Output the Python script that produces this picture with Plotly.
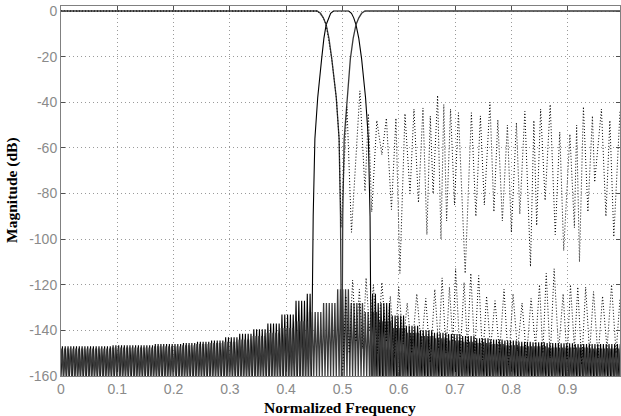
import numpy as np
import plotly.graph_objects as go

# ------------------------------------------------------------------
# Data
# ------------------------------------------------------------------
floor_db = -160.0          # plot floor (nulls are clipped here)
ripple_step = 0.005        # spacing of stopband ripples (normalized freq)

x_ticks = [0, 0.1, 0.2, 0.3, 0.4, 0.5, 0.6, 0.7, 0.8, 0.9]
x_tick_text = ["0", "0.1", "0.2", "0.3", "0.4", "0.5", "0.6", "0.7", "0.8", "0.9"]
y_ticks = [0, -20, -40, -60, -80, -100, -120, -140, -160]
y_tick_text = ["0", "-20", "-40", "-60", "-80", "-100", "-120", "-140", "-160"]

# Lowpass: passband + transition
lp_f = [0.0, 0.455, 0.461, 0.466, 0.471, 0.476, 0.481, 0.489, 0.494, 0.4965, 0.4975, 0.498]
lp_db = [0, 0, -1, -3, -6, -12, -21, -38, -56, -90, -125, -160]

# Bandpass: left skirt, passband, right skirt
bp_f = [0.445, 0.4455, 0.446, 0.448, 0.451, 0.456, 0.463, 0.467, 0.471, 0.475, 0.479, 0.484,
        0.511, 0.516, 0.520, 0.524, 0.529, 0.534, 0.541, 0.546, 0.549, 0.550, 0.5505, 0.551]
bp_db = [-160, -140, -125, -90, -56, -38, -21, -12, -6, -3, -1, 0,
         0, -1, -3, -6, -12, -21, -38, -56, -90, -125, -140, -160]

# Highpass: transition + passband
hp_f = [0.499, 0.4995, 0.5005, 0.503, 0.508, 0.514, 0.519, 0.524, 0.529, 0.534, 0.540, 0.993]
hp_db = [-160, -125, -90, -56, -38, -21, -12, -6, -3, -1, 0, 0]

# Stopband ripple envelopes (peak level), one value per 0.025 of frequency
env_f = [round(0.025 * i, 3) for i in range(41)]
bp_env = [-147, -147, -147, -147, -146.5, -146.5, -146.5, -146, -146, -145.5,
          -145, -144.5, -143, -141.5, -139.5, -137, -133, -127, -124, -124,
          -124, -124, -124, -128, -133.5, -138, -140, -141, -141.6, -142.5,
          -143.5, -144, -144.5, -145, -145.2, -145.5, -145.6, -146, -146, -146, -146]
hp_env = [-148, -148, -148, -148, -147.5, -147.5, -147.5, -147, -147, -146.5,
          -146, -145.5, -145, -144, -142.5, -141, -139, -136, -132, -128,
          -122, -122, -122, -122, -122, -122, -122, -122, -122, -122,
          -122, -122, -122, -122, -122, -122, -122, -122, -122, -122, -122]
lp_env = [-122, -122, -122, -122, -122, -122, -122, -122, -122, -122,
          -122, -122, -122, -122, -122, -122, -122, -122, -122, -122,
          -122, -128, -132, -136, -139, -141, -142.5, -143.5, -144.5, -145,
          -145.5, -146, -146.5, -147, -147, -147.5, -147.5, -147.5, -148, -148, -148]

# Dotted curve A (stopband around -40 .. -115 dB)
da_f = [0.0, 0.455, 0.466, 0.471, 0.481, 0.489, 0.494, 0.4975,
        0.508, 0.516, 0.531, 0.540, 0.546, 0.552, 0.561, 0.570, 0.578, 0.587, 0.595, 0.602,
        0.611, 0.620, 0.627, 0.635, 0.643, 0.650, 0.656, 0.661, 0.669, 0.675, 0.680, 0.685,
        0.692, 0.699, 0.706, 0.718, 0.729, 0.737, 0.745, 0.752, 0.762, 0.769, 0.776, 0.784,
        0.793, 0.800, 0.809, 0.815, 0.824, 0.834, 0.840, 0.845, 0.852, 0.860, 0.869, 0.878,
        0.886, 0.893, 0.904, 0.912, 0.916, 0.921, 0.928, 0.936, 0.944, 0.948, 0.960, 0.968,
        0.975, 0.982, 0.993]
da_db = [0, 0, -3, -6, -21, -38, -56, -95,
         -42, -97, -35, -79, -45, -88, -48, -63, -47, -87, -47, -115,
         -45, -80, -43, -84, -42.5, -98, -46, -80, -37, -100, -41, -92,
         -43, -85, -44.6, -115, -44.6, -90, -46, -85, -40, -88, -47.7, -92,
         -50, -97, -49, -89, -44, -112, -48, -94, -43, -83, -41, -98,
         -53, -105, -54, -95, -50, -110, -42, -88, -46, -75, -43, -90,
         -48, -99, -44]

# Dotted curve B (stopband around -115 .. -155 dB)
db_f = [0.500, 0.506, 0.512, 0.518, 0.524, 0.530, 0.536, 0.542, 0.548, 0.555, 0.562, 0.570,
        0.578, 0.585, 0.592, 0.600, 0.608, 0.615, 0.623, 0.632, 0.640, 0.648, 0.656, 0.664,
        0.671, 0.677, 0.684, 0.690, 0.696, 0.701, 0.709, 0.716, 0.722, 0.728, 0.735, 0.742,
        0.749, 0.756, 0.763, 0.771, 0.779, 0.787, 0.795, 0.803, 0.811, 0.819, 0.827, 0.835,
        0.843, 0.850, 0.856, 0.862, 0.869, 0.876, 0.884, 0.892, 0.899, 0.905, 0.912, 0.918,
        0.925, 0.932, 0.939, 0.946, 0.954, 0.962, 0.970, 0.978, 0.986, 0.993]
db_db = [-160, -125, -150, -118, -145, -122, -148, -117, -140, -120, -150, -119,
         -145, -125, -152, -121, -146, -128, -150, -124, -147, -126, -154, -122,
         -148, -117, -150, -121, -145, -113, -152, -119, -147, -115, -150, -116,
         -153, -125, -148, -127, -150, -122, -155, -124, -149, -128, -152, -126,
         -147, -120, -150, -115, -152, -113, -149, -124, -153, -120, -148, -121,
         -155, -121, -150, -123, -152, -125, -148, -120, -150, -126]


# ------------------------------------------------------------------
# Build the stopband ripple traces from the envelopes above
# ------------------------------------------------------------------
def env_at(env, f):
    i = int(round(f / 0.025))
    i = min(max(i, 0), len(env) - 1)
    return env[i]


def ripple_left(edge, stop, env, step):
    """Ripples from a stopband edge going toward lower frequency."""
    xs, ys = [edge], [floor_db]
    n = edge
    while n - step > stop - step:
        p = n - step / 2
        xs += [p, n - step]
        ys += [env_at(env, p), floor_db]
        n -= step
    return xs, ys


def ripple_right(edge, stop, env, step):
    xs, ys = [edge], [floor_db]
    n = edge
    while n + step < stop + step:
        p = n + step / 2
        xs += [p, n + step]
        ys += [env_at(env, p), floor_db]
        n += step
    return xs, ys


bpL_x, bpL_y = ripple_left(bp_f[0], 0.0, bp_env, ripple_step)
bpR_x, bpR_y = ripple_right(bp_f[-1], 0.993, bp_env, ripple_step)
hp_sx, hp_sy = ripple_left(hp_f[0], 0.0, hp_env, ripple_step)
lp_sx, lp_sy = ripple_right(lp_f[-1], 0.993, lp_env, ripple_step)

bp_x = bpL_x[::-1] + bp_f[1:-1] + bpR_x
bp_y = bpL_y[::-1] + bp_db[1:-1] + bpR_y
lp_x = lp_f + lp_sx[1:]
lp_y = lp_db + lp_sy[1:]
hp_x = hp_sx[::-1] + hp_f[1:]
hp_y = hp_sy[::-1] + hp_db[1:]

fig = go.Figure()
fig.add_trace(go.Scatter(x=bp_x, y=bp_y, mode="lines", line=dict(color="black", width=1.1), name="bandpass"))
fig.add_trace(go.Scatter(x=hp_x, y=hp_y, mode="lines", line=dict(color="#3a3a3a", width=1.3), name="highpass"))
fig.add_trace(go.Scatter(x=lp_x, y=lp_y, mode="lines", line=dict(color="#3a3a3a", width=1.3), name="lowpass"))
fig.add_trace(go.Scatter(x=da_f, y=da_db, mode="lines",
                         line=dict(color="black", width=1, dash="1px,2px"), name="dotted A"))
fig.add_trace(go.Scatter(x=db_f, y=db_db, mode="lines",
                         line=dict(color="black", width=1, dash="1px,2px"), name="dotted B"))

tick_font = dict(family="Liberation Sans, Arial, sans-serif", size=14, color="#8a8a8a")
title_font = dict(family="Liberation Serif, Times New Roman, serif", size=15.5, color="black",
                  weight="bold")
axis_common = dict(
    showline=True, linecolor="#808080", linewidth=1, mirror="ticks",
    ticks="inside", ticklen=4, tickcolor="#505050", tickwidth=1,
    showgrid=True, gridcolor="#9a9a9a", gridwidth=1, griddash="1px,3px",
    zeroline=False, tickfont=tick_font, automargin=False,
)

fig.update_layout(
    width=621, height=416,
    margin=dict(l=61, r=1, t=6, b=40, autoexpand=False),
    paper_bgcolor="white", plot_bgcolor="white",
    showlegend=False,
    xaxis=dict(range=[0, 0.993], tickvals=x_ticks, ticktext=x_tick_text, **axis_common),
    yaxis=dict(range=[-160, 2.2], tickvals=y_ticks, ticktext=y_tick_text, **axis_common),
    annotations=[
        dict(text="Normalized Frequency", xref="paper", yref="paper", x=0.499, y=0,
             xanchor="center", yanchor="top", yshift=-21, showarrow=False, font=title_font),
        dict(text="Magnitude (dB)", xref="paper", yref="paper", x=0, y=0.503,
             xanchor="center", yanchor="middle", xshift=-49, textangle=-90, showarrow=False,
             font=title_font),
    ],
)

fig.write_html("out.html", config={"displayModeBar": False},
               post_script="document.body.style.margin='0';document.body.style.padding='0';")
